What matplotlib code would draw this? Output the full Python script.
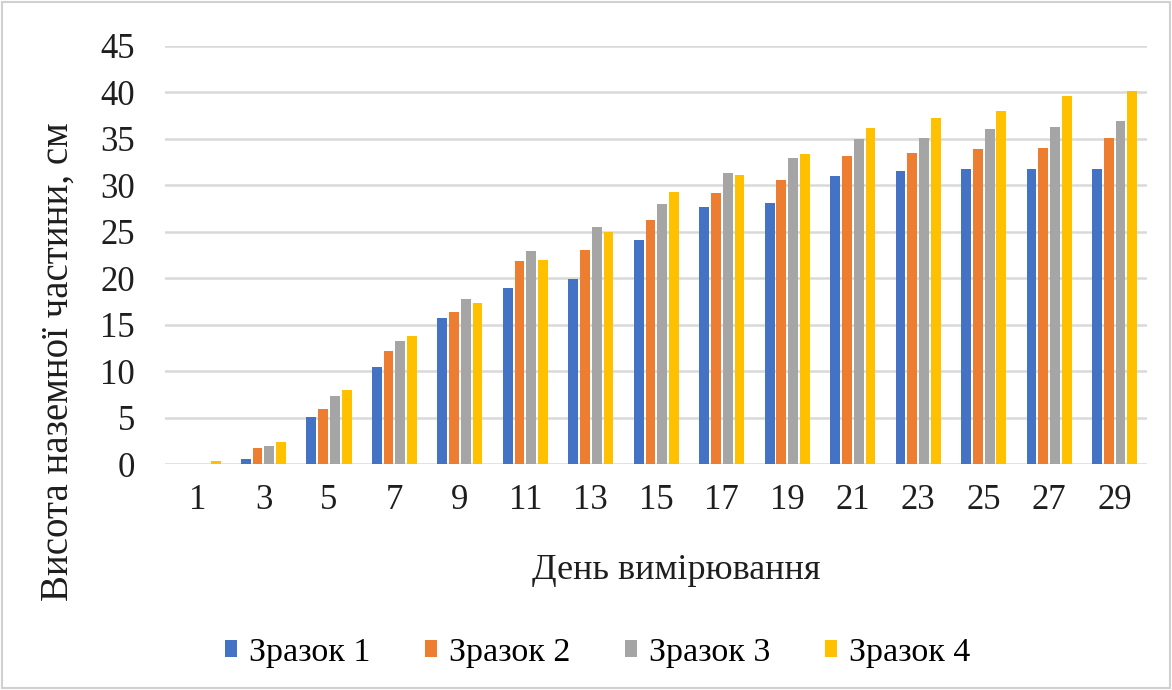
import numpy as np
import matplotlib.pyplot as plt
from matplotlib.patches import Rectangle

plt.rcParams['font.family'] = ['Liberation Serif', 'DejaVu Serif']

days = ['1', '3', '5', '7', '9', '11', '13', '15', '17', '19', '21', '23', '25', '27', '29']
sample1 = [0.0, 0.6, 5.1, 10.5, 15.7, 19.0, 19.9, 24.1, 27.6, 28.1, 31.0, 31.5, 31.7, 31.7, 31.7]
sample2 = [0.0, 1.8, 6.0, 12.2, 16.4, 21.9, 23.0, 26.3, 29.2, 30.6, 33.1, 33.5, 33.9, 34.0, 35.1]
sample3 = [0.0, 2.0, 7.3, 13.3, 17.8, 22.9, 25.5, 28.0, 31.3, 32.9, 35.0, 35.1, 36.0, 36.3, 36.9]
sample4 = [0.4, 2.4, 8.0, 13.8, 17.3, 22.0, 25.0, 29.3, 31.1, 33.4, 36.1, 37.2, 38.0, 39.6, 40.1]
series = [sample1, sample2, sample3, sample4]
names = ['Зразок 1', 'Зразок 2', 'Зразок 3', 'Зразок 4']
colors = ['#4472C4', '#ED7D31', '#A5A5A5', '#FFC000']

fig = plt.figure(figsize=(11.72, 6.9), dpi=100)
ax = fig.add_axes([0.141, 0.327, 0.838, 0.607])

x = np.arange(len(days))
step = 0.18
width = 0.15
for i, (vals, name, c) in enumerate(zip(series, names, colors)):
    ax.bar(x + (i - 1.5) * step, vals, width, color=c, label=name, zorder=3)

ax.set_xlim(-0.5, len(days) - 0.5)
ax.set_ylim(0, 45)
ax.set_yticks(np.arange(0, 46, 5))
ax.set_xticks(x)
ax.set_xticklabels(days)
ax.grid(axis='y', color='#d9d9d9', linewidth=1.8, zorder=0)
for s in ax.spines.values():
    s.set_visible(False)
ax.tick_params(length=0, labelsize=25, colors='#1e1e1e')
ax.tick_params(axis='x', pad=14)
ax.tick_params(axis='y', pad=22)

ax.set_xlabel('День вимірювання', fontsize=26, color='#1e1e1e')
ax.set_ylabel('Висота наземної частини, см', fontsize=28, color='#1e1e1e')
ax.xaxis.set_label_coords(0.52, -0.213)
ax.yaxis.set_label_coords(-0.09, 0.244)

fig.legend(loc='lower center', bbox_to_anchor=(0.51, -0.012), ncol=4, frameon=False,
           fontsize=24.5, handlelength=0.36, handleheight=0.36, handletextpad=0.35,
           columnspacing=1.6)

fig.patches.append(Rectangle((0.002, 0.003), 0.996, 0.994, transform=fig.transFigure,
                             fill=False, edgecolor='#d0d0d0', linewidth=1.5))

fig.savefig('out.png', dpi=100)
